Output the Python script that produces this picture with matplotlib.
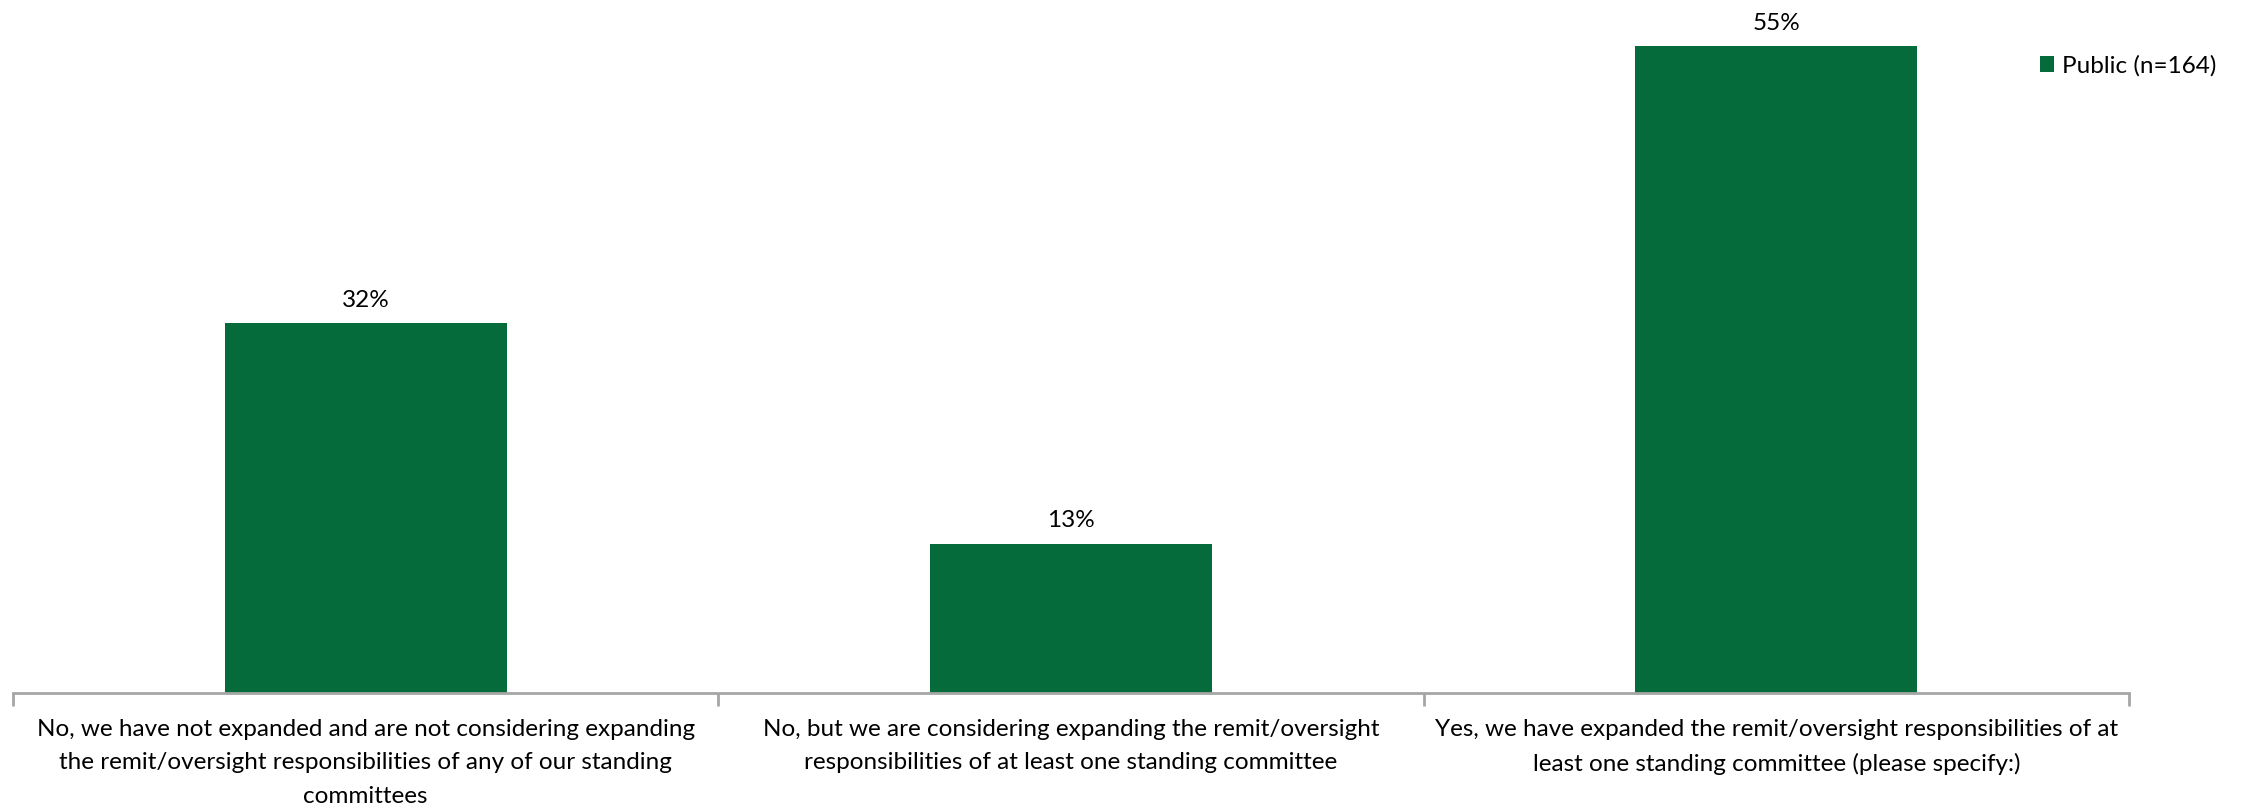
import matplotlib
matplotlib.use("Agg")
import matplotlib.pyplot as plt
import numpy as np

categories = [
    "No, we have not expanded and are not considering expanding\nthe remit/oversight responsibilities of any of our standing\ncommittees",
    "No, but we are considering expanding the remit/oversight\nresponsibilities of at least one standing committee",
    "Yes, we have expanded the remit/oversight responsibilities of at\nleast one standing committee (please specify:)",
]
# share of respondents (52, 21 and 91 of 164)
public_pct = [31.71, 12.80, 55.49]
series_name = "Public (n=164)"

plt.rcParams["font.family"] = ["Lato", "DejaVu Sans"]
FS = 17.5

fig = plt.figure(figsize=(22.44, 8.05), dpi=100)
ax = fig.add_axes([13 / 2244, 1 - 693 / 805, (2129 - 13) / 2244, (693 - 46) / 805])

x = np.arange(len(categories))
bars = ax.bar(x, public_pct, width=0.4, color="#066B3A", label=series_name)

for b, v in zip(bars, public_pct):
    ax.annotate(f"{v:.0f}%", (b.get_x() + b.get_width() / 2, v), xytext=(0, 16.5),
                textcoords="offset points", ha="center", va="center", fontsize=FS)

ax.set_xlim(-0.5, len(categories) - 0.5)
ax.set_ylim(0, max(public_pct))
ax.set_yticks([])
for s in ["top", "right", "left"]:
    ax.spines[s].set_visible(False)
ax.spines["bottom"].set_color("#A6A6A6")
ax.spines["bottom"].set_linewidth(2)

# category boundaries get the ticks, labels sit in the middle
ax.set_xticks(np.arange(-0.5, len(categories)))
ax.set_xticklabels([])
ax.tick_params(axis="x", length=9, width=2, color="#A6A6A6")
for i, lab in enumerate(categories):
    ax.annotate(lab, (i, 0), xytext=(0, -18.5), textcoords="offset points",
                ha="center", va="top", fontsize=FS, linespacing=1.75)

ax.legend(loc="center left", frameon=False, fontsize=FS, handlelength=0.6,
          handleheight=0.6, handletextpad=0.3, borderaxespad=0)
ax.get_legend().set_bbox_to_anchor((2030 / 2244, 1 - 66 / 805), transform=fig.transFigure)

fig.savefig("out.png", dpi=100)
